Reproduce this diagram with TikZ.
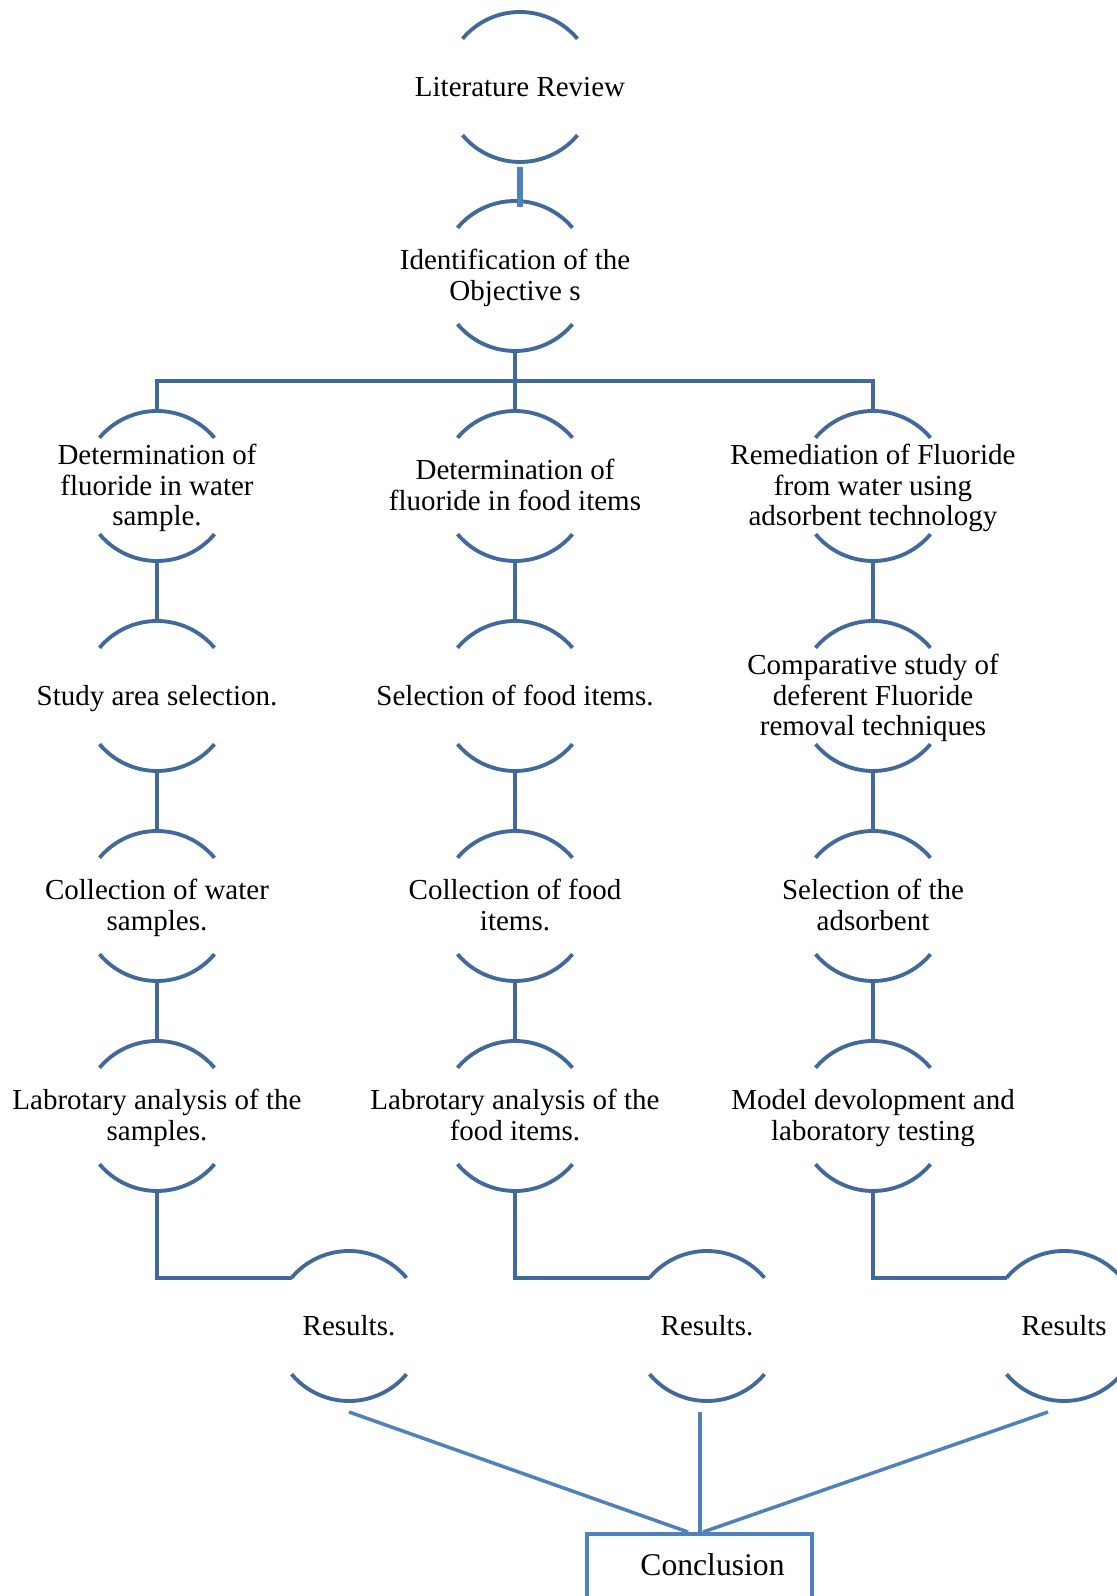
\documentclass[tikz,border=0pt]{standalone}
\usepackage{fontspec}
\setmainfont{Liberation Serif}
\usepackage{tikz}

\definecolor{arcblue}{HTML}{41699C}
\definecolor{lineblue}{HTML}{4F81BD}

\tikzset{
  stage/.style={circle, minimum size=3cm, inner sep=0cm, outer sep=0cm},
  stagetext/.style={align=center, font=\fontsize{16.5}{17.4}\selectfont, yshift=-0.07cm,
                    execute at begin node=\strut, execute at end node=\strut},
  arcline/.style={draw=arcblue, line width=2.2pt},
  link/.style={draw=arcblue, line width=2.2pt},
  endlink/.style={draw=lineblue, line width=2pt}
}

\begin{document}
\begin{tikzpicture}

\useasboundingbox (0,0) rectangle (22.34,31.92);
\clip (0,0) rectangle (22.34,31.92);

% top of the chart
\node[stage, label={[stagetext]center:Literature Review}] (lit) at (10.40, 30.18) {};
\node[stage, label={[stagetext]center:Identification of the\\Objective s}] (obj) at (10.30, 26.40) {};

% water column
\node[stage, label={[stagetext]center:Determination of\\fluoride in water\\sample.}] (wa) at (3.14, 22.20) {};
\node[stage, label={[stagetext]center:Study area selection.}] (wb) at (3.14, 18.00) {};
\node[stage, label={[stagetext]center:Collection of water\\samples.}] (wc) at (3.14, 13.80) {};
\node[stage, label={[stagetext]center:Labrotary analysis of the\\samples.}] (wd) at (3.14, 9.60) {};

% food column
\node[stage, label={[stagetext]center:Determination of\\fluoride in food items}] (fa) at (10.30, 22.20) {};
\node[stage, label={[stagetext]center:Selection of food items.}] (fb) at (10.30, 18.00) {};
\node[stage, label={[stagetext]center:Collection of food\\items.}] (fc) at (10.30, 13.80) {};
\node[stage, label={[stagetext]center:Labrotary analysis of the\\food items.}] (fd) at (10.30, 9.60) {};

% remediation column
\node[stage, label={[stagetext]center:Remediation of Fluoride\\from water using\\adsorbent technology}] (ra) at (17.46, 22.20) {};
\node[stage, label={[stagetext]center:Comparative study of\\deferent Fluoride\\removal techniques}] (rb) at (17.46, 18.00) {};
\node[stage, label={[stagetext]center:Selection of the\\adsorbent}] (rc) at (17.46, 13.80) {};
\node[stage, label={[stagetext]center:Model devolopment and\\laboratory testing}] (rd) at (17.46, 9.60) {};

% results
\node[stage, label={[stagetext]center:Results.}] (res1) at (6.98, 5.40) {};
\node[stage, label={[stagetext]center:Results.}] (res2) at (14.14, 5.40) {};
\node[stage, label={[stagetext]center:Results}] (res3) at (21.28, 5.40) {};

\node[draw=lineblue, line width=2pt, anchor=north, minimum width=4.5cm,
      minimum height=1.36cm, inner sep=0cm,
      font=\fontsize{18}{20}\selectfont] (concl) at (13.99, 1.28)
      {\hspace*{0.52cm}\raisebox{0.13cm}{Conclusion}};

% the two arcs of every stage
\foreach \n in {lit,obj,wa,wb,wc,wd,fa,fb,fc,fd,ra,rb,rc,rd,res1,res2,res3} {
  \draw[arcline] (\n.40) arc[start angle=40, end angle=140, radius=1.5cm];
  \draw[arcline] (\n.220) arc[start angle=220, end angle=320, radius=1.5cm];
}

% connectors
\draw[draw=lineblue, line width=3.2pt] ([yshift=-1mm]lit.south) -- ([yshift=-1.2mm]lit.south |- obj.north);
\draw[link] (obj.south) -- (fa.north);
\draw[link] (wa.north) -- ++(0,0.6) -| (ra.north);

\draw[link] (wa.south) -- (wb.north);
\draw[link] (wb.south) -- (wc.north);
\draw[link] (wc.south) -- (wd.north);
\draw[link] (fa.south) -- (fb.north);
\draw[link] (fb.south) -- (fc.north);
\draw[link] (fc.south) -- (fd.north);
\draw[link] (ra.south) -- (rb.north);
\draw[link] (rb.south) -- (rc.north);
\draw[link] (rc.south) -- (rd.north);

\draw[link] (wd.south) |- (res1.140);
\draw[link] (fd.south) |- (res2.140);
\draw[link] (rd.south) |- (res3.140);

\draw[endlink] ([yshift=-0.22cm]res1.south) -- ([xshift=-0.23cm]concl.north);
\draw[endlink] ([xshift=-0.14cm, yshift=-0.22cm]res2.south) -- ([xshift=-0.14cm]res2.south |- concl.north);
\draw[endlink] ([xshift=-0.32cm, yshift=-0.22cm]res3.south) -- ([xshift=0.07cm]concl.north);

\end{tikzpicture}
\end{document}
